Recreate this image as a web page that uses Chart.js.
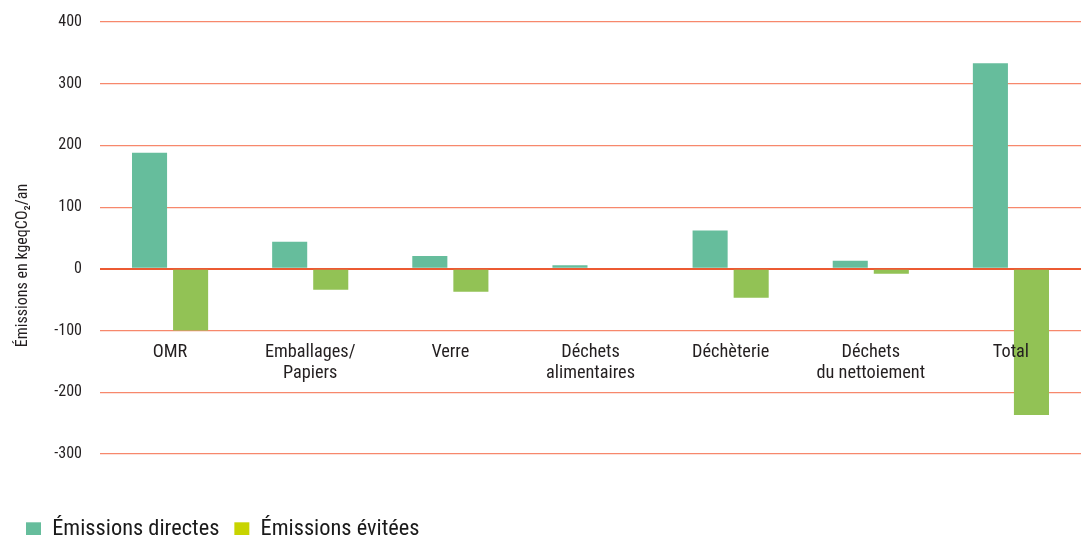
<!DOCTYPE html>
<html>
<head>
<meta charset="utf-8">
<script src="https://cdn.jsdelivr.net/npm/chart.js@4.4.1/dist/chart.umd.min.js"></script>
<style>
  html, body { margin: 0; padding: 0; background: #ffffff; }
  #wrap { width: 1081px; height: 535px; position: relative; }
</style>
</head>
<body>
<div id="wrap"><canvas id="c" width="1081" height="535"></canvas></div>
<script>
const categories = [
  'OMR',
  ['Emballages/', 'Papiers'],
  'Verre',
  ['Déchets', 'alimentaires'],
  'Déchèterie',
  ['Déchets', 'du nettoiement'],
  'Total'
];
const seriesNames = ['Émissions directes', 'Émissions évitées'];
const directes = [188, 44, 21, 6, 62, 13, 333];
const evitees = [-100, -34, -37, 0, -47, -8, -237];
const yTicks = [400, 300, 200, 100, 0, -100, -200, -300];
const yTitle = 'Émissions en kgeqCO₂/an';

const FONT = "'Roboto Condensed', Roboto, 'Liberation Sans', sans-serif";
const barColors = ['#66bd9c', '#92c255'];
const legendColors = ['#66bd9c', '#c8d400'];

const legendShift = {
  id: 'legendShift',
  afterLayout(chart) {
    if (chart.legend) {
      chart.legend.top += 16;
      chart.legend.bottom += 16;
    }
  }
};

new Chart(document.getElementById('c'), {
  type: 'bar',
  data: {
    labels: categories,
    datasets: [
      { label: seriesNames[0], data: directes, backgroundColor: barColors[0], borderWidth: 0,
        barPercentage: 0.854, categoryPercentage: 0.586 },
      { label: seriesNames[1], data: evitees, backgroundColor: barColors[1], borderWidth: 0,
        barPercentage: 0.854, categoryPercentage: 0.586 }
    ]
  },
  options: {
    responsive: false,
    animation: false,
    devicePixelRatio: 1,
    layout: { autoPadding: false, padding: { top: 22, left: 11, right: 0, bottom: 0 } },
    font: { family: FONT },
    scales: {
      x: {
        position: { y: -100 },
        grid: { display: false, drawTicks: false },
        border: { display: false },
        ticks: {
          z: 1,
          padding: 12,
          maxRotation: 0,
          autoSkip: false,
          color: '#231f20',
          font: { family: FONT, size: 18.3, lineHeight: 1.12 }
        }
      },
      y: {
        min: -300,
        max: 400,
        afterFit(scale) {
          scale.width = 89;
          scale.paddingTop = 10;
          scale.paddingBottom = 10;
        },
        afterBuildTicks(scale) { scale.ticks = yTicks.map(v => ({ value: v })); },
        grid: {
          drawTicks: false,
          color: ctx => (ctx.tick && ctx.tick.value === 0) ? '#ec5a32' : '#f7886c',
          lineWidth: ctx => (ctx.tick && ctx.tick.value === 0) ? 2 : 1.2
        },
        border: { display: false },
        ticks: {
          padding: 18,
          color: '#231f20',
          font: { family: FONT, size: 16 },
          callback: v => String(v)
        },
        title: {
          display: true,
          text: yTitle + '\u00A0'.repeat(15),
          color: '#231f20',
          font: { family: FONT, size: 16 },
          padding: { top: 2, bottom: 0 }
        }
      }
    },
    plugins: {
      tooltip: { enabled: false },
      legend: {
        display: true,
        position: 'bottom',
        align: 'start',
        title: { display: true, text: '', font: { size: 20, lineHeight: 1.68 }, padding: 0 },
        labels: {
          boxWidth: 15,
          boxHeight: 15,
          padding: 15,
          color: '#1a1a1a',
          font: { family: FONT, size: 22.4 },
          generateLabels(chart) {
            return chart.data.datasets.map((ds, i) => ({
              text: ds.label,
              fillStyle: legendColors[i],
              strokeStyle: legendColors[i],
              lineWidth: 0,
              hidden: false,
              datasetIndex: i,
              fontColor: '#1a1a1a'
            }));
          }
        }
      }
    }
  },
  plugins: [legendShift]
});
</script>
</body>
</html>
